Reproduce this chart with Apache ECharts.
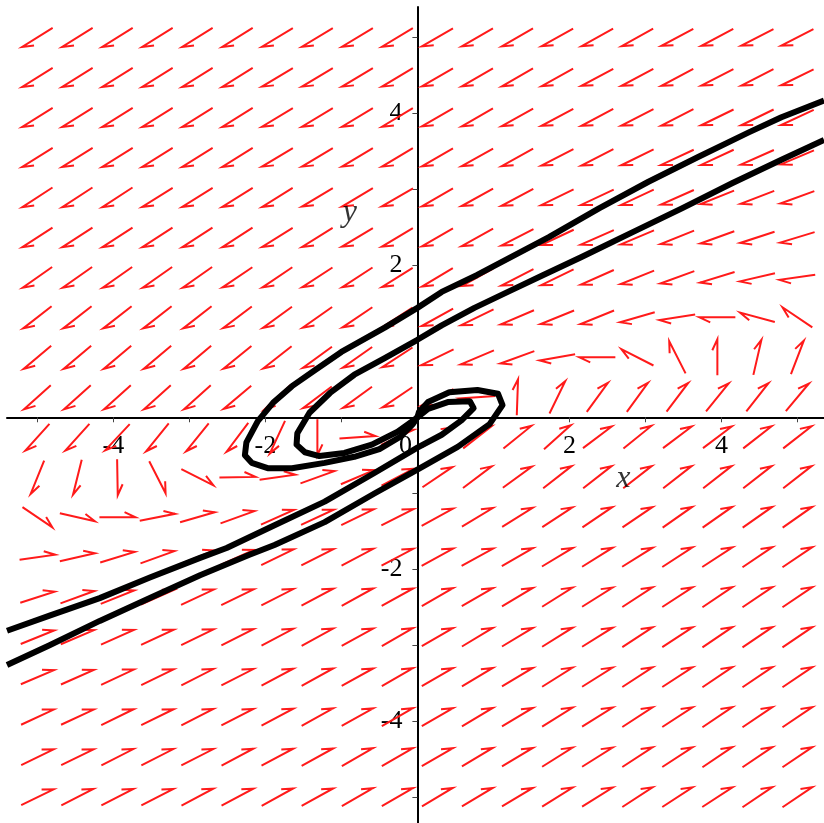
<!DOCTYPE html>
<html>
<head>
<meta charset="utf-8">
<title>Direction field with trajectories</title>
<script src="https://cdn.jsdelivr.net/npm/echarts@6/dist/echarts.min.js"></script>
<style>
  html, body { margin: 0; padding: 0; background: #fff; }
  #chart { width: 824px; height: 823px; }
</style>
</head>
<body>
<div id="chart"></div>
<script>
// grid points of the direction field (columns left->right, rows top->bottom)
const fieldX = [-5, -4.474, -3.947, -3.421, -2.895, -2.368, -1.842, -1.316, -0.789, -0.263,
                0.263, 0.789, 1.316, 1.842, 2.368, 2.895, 3.421, 3.947, 4.474, 5];
const fieldY = [5, 4.474, 3.947, 3.421, 2.895, 2.368, 1.842, 1.316, 0.789, 0.263,
                -0.263, -0.789, -1.316, -1.842, -2.368, -2.895, -3.421, -3.947, -4.474, -5];

// arrow direction in degrees (counter-clockwise from +x), one row per fieldY value
const fieldAngles = [
  [212,212,212,212,212,212,211,211,211,211,210,210,210,209,209,209,208,208,207,207],
  [212,212,212,212,212,212,211,211,211,211,210,210,210,209,208,208,208,207,207,206],
  [212,212,212,212,212,212,211,211,211,211,210,210,209,208,208,207,207,206,206,205],
  [212,212,212,212,212,212,211,211,211,211,210,209,209,207,207,206,205,205,204,203],
  [213,213,213,212,212,212,212,211,211,210,210,209,208,206,205,205,204,202,201,200],
  [213,213,213,213,213,213,212,212,211,211,210,209,207,205,204,203,202,200,198,197],
  [215,215,215,215,215,214,214,213,213,212,211,209,207,206,204,202,200,197,193,188],
  [218,218,218,218,218,217,216,215,214,213,209,206,203,202,202,196,189,180,165,146],
  [220,220,220,220,220,219,218,216,215,213,206,203,200,190,180,153,117,90,77,69],
  [222,222,222,222,222,220,223,217,216,214,207,184,88,64,54,54,53,51,52,50],
  [228,228,227,231,231,233,245,270,4,25,33,38,39,42,37,39,37,37,38,38],
  [248,256,271,297,333,1,8,20,23,28,34,37,36,38,38,38,38,38,38,38],
  [326,347,0,11,16,20,24,25,26,27,29,31,32,33,34,34,35,35,35,35],
  [8,13,17,20,22,24,26,27,28,28,29,29,30,31,32,32,33,33,34,34],
  [18,20,22,24,25,26,27,28,29,29,30,30,31,32,32,33,33,34,34,34],
  [22,23,24,25,26,27,28,29,29,30,30,31,31,32,32,33,33,34,34,34],
  [23,24,25,26,27,27,28,29,29,30,30,31,31,32,32,33,33,34,34,34],
  [25,25,26,26,27,27,28,29,29,30,30,31,31,32,32,33,33,34,34,34],
  [26,26,27,27,27,28,28,29,30,30,30,31,31,32,32,33,33,34,34,34],
  [26,27,27,27,28,28,29,29,30,30,31,31,31,32,32,33,33,33,34,34]
];

// solution curves, [x, y]
const upperOuter = [
  [5.35,4.17],[4.79,3.95],[4.36,3.75],[3.70,3.43],[3.04,3.10],[2.39,2.75],[1.73,2.37],
  [0.78,1.87],[0.32,1.65],[0,1.44],[-0.43,1.18],[-1.00,0.86],[-1.35,0.62],[-1.65,0.41],
  [-1.90,0.19],[-2.10,-0.05],[-2.25,-0.33],[-2.27,-0.50],[-2.18,-0.60],[-1.97,-0.67],
  [-1.65,-0.67],[-1.22,-0.60],[-0.83,-0.52],[-0.50,-0.42],[-0.23,-0.26],[-0.06,-0.09],[0,0]
];
const upperInner = [
  [5.35,3.65],[4.79,3.39],[4.14,3.08],[3.48,2.75],[2.82,2.43],[2.16,2.11],[1.65,1.87],
  [1.19,1.65],[0.75,1.44],[0.32,1.21],[0,1.02],[-0.43,0.78],[-0.83,0.56],[-1.15,0.32],
  [-1.42,0.06],[-1.58,-0.21],[-1.59,-0.36],[-1.48,-0.46],[-1.29,-0.51],[-0.96,-0.47],
  [-0.60,-0.36],[-0.26,-0.19],[-0.08,-0.06],[0,0]
];
const lowerOuter = [
  [-5.40,-3.26],[-4.84,-3.00],[-4.18,-2.68],[-3.52,-2.38],[-2.86,-2.08],[-2.21,-1.81],
  [-1.88,-1.68],[-1.22,-1.38],[-0.56,-1.00],[0,-0.69],[0.53,-0.39],[0.95,-0.09],
  [1.12,0.16],[1.06,0.31],[0.79,0.36],[0.42,0.33],[0.14,0.20],[0.02,0.07],[0,0]
];
const lowerInner = [
  [-5.40,-2.81],[-4.84,-2.61],[-4.18,-2.38],[-3.52,-2.11],[-2.86,-1.85],[-2.51,-1.72],
  [-1.88,-1.42],[-1.22,-1.11],[-0.56,-0.73],[0,-0.40],[0.32,-0.23],[0.58,-0.04],
  [0.74,0.12],[0.69,0.21],[0.40,0.20],[0.14,0.11],[0,0]
];

// axis ticks and labels
const xTicks = [-5, -4, -3, -2, -1, 0, 1, 2, 3, 4, 5];
const yTicks = [-5, -4, -3, -2, -1, 1, 2, 3, 4, 5];
const xLabels = [-4, -2, 0, 2, 4];
const yLabels = [-4, -2, 2, 4];
const axisNames = [
  { name: 'x', value: [2.71, -0.81] },
  { name: 'y', value: [-0.89, 2.70] }
];

const arrowLen = 36;
const barbLen = 12;
const barbTurn = 155;

const arrowData = [];
fieldY.forEach((y, r) => {
  fieldX.forEach((x, c) => {
    arrowData.push([x, y, fieldAngles[r][c]]);
  });
});

function renderArrow(params, api) {
  const p = api.coord([api.value(0), api.value(1)]);
  const a = api.value(2) * Math.PI / 180;
  const dx = Math.cos(a), dy = -Math.sin(a);
  const half = arrowLen / 2;
  const tail = [p[0] - dx * half, p[1] - dy * half];
  const head = [p[0] + dx * half, p[1] + dy * half];
  const b = a + barbTurn * Math.PI / 180;
  const barb = [head[0] + Math.cos(b) * barbLen, head[1] - Math.sin(b) * barbLen];
  return {
    type: 'polyline',
    shape: { points: [tail, head, barb] },
    style: { stroke: '#ff1a1a', lineWidth: 2, fill: null }
  };
}

const serif = '"Liberation Serif", "DejaVu Serif", serif';
const curveStyle = { color: '#000', width: 6, join: 'round' };

const chart = echarts.init(document.getElementById('chart'));
chart.setOption({
  animation: false,
  backgroundColor: '#fff',
  grid: { left: 7, right: 0, top: 7, bottom: 0, containLabel: false, outerBoundsMode: 'none' },
  xAxis: {
    type: 'value', min: -5.4, max: 5.35, position: 'bottom',
    splitLine: { show: false },
    axisLine: { onZero: false, lineStyle: { color: '#000', width: 2 } },
    axisTick: { customValues: xTicks, length: 5, lineStyle: { color: '#444', width: 1 } },
    axisLabel: {
      customValues: xLabels, margin: 16, hideOverlap: false,
      fontFamily: serif, fontSize: 26, color: '#000',
      formatter: v => (v === 0 ? '{z|0}' : String(v)),
      rich: { z: { fontFamily: serif, fontSize: 26, color: '#000', padding: [0, 24, 0, 0] } }
    }
  },
  yAxis: {
    type: 'value', min: -5.34, max: 5.40, position: 'left',
    splitLine: { show: false },
    axisLine: { onZero: false, lineStyle: { color: '#000', width: 2 } },
    axisTick: { customValues: yTicks, length: 5, lineStyle: { color: '#444', width: 1 } },
    axisLabel: {
      customValues: yLabels, margin: 15, hideOverlap: false,
      fontFamily: serif, fontSize: 26, color: '#000'
    }
  },
  series: [
    {
      type: 'custom',
      renderItem: renderArrow,
      data: arrowData,
      encode: { x: 0, y: 1 },
      silent: true,
      z: 2
    },
    { type: 'line', data: upperOuter, showSymbol: false, lineStyle: curveStyle, silent: true, z: 4 },
    { type: 'line', data: upperInner, showSymbol: false, lineStyle: curveStyle, silent: true, z: 4 },
    { type: 'line', data: lowerOuter, showSymbol: false, lineStyle: curveStyle, silent: true, z: 4 },
    { type: 'line', data: lowerInner, showSymbol: false, lineStyle: curveStyle, silent: true, z: 4 },
    {
      type: 'scatter',
      data: axisNames,
      symbolSize: 0,
      silent: true,
      z: 5,
      label: {
        show: true, position: 'inside', formatter: '{b}',
        fontFamily: serif, fontStyle: 'italic', fontSize: 32, color: '#000'
      }
    }
  ]
});

// move both axes (line, ticks, labels) onto the origin
const rect = chart.getModel().getComponent('grid', 0).coordinateSystem.getRect();
const origin = chart.convertToPixel({ gridIndex: 0 }, [0, 0]);
chart.setOption({
  xAxis: { offset: origin[1] - (rect.y + rect.height) },
  yAxis: { offset: rect.x - origin[0] }
});
</script>
</body>
</html>
